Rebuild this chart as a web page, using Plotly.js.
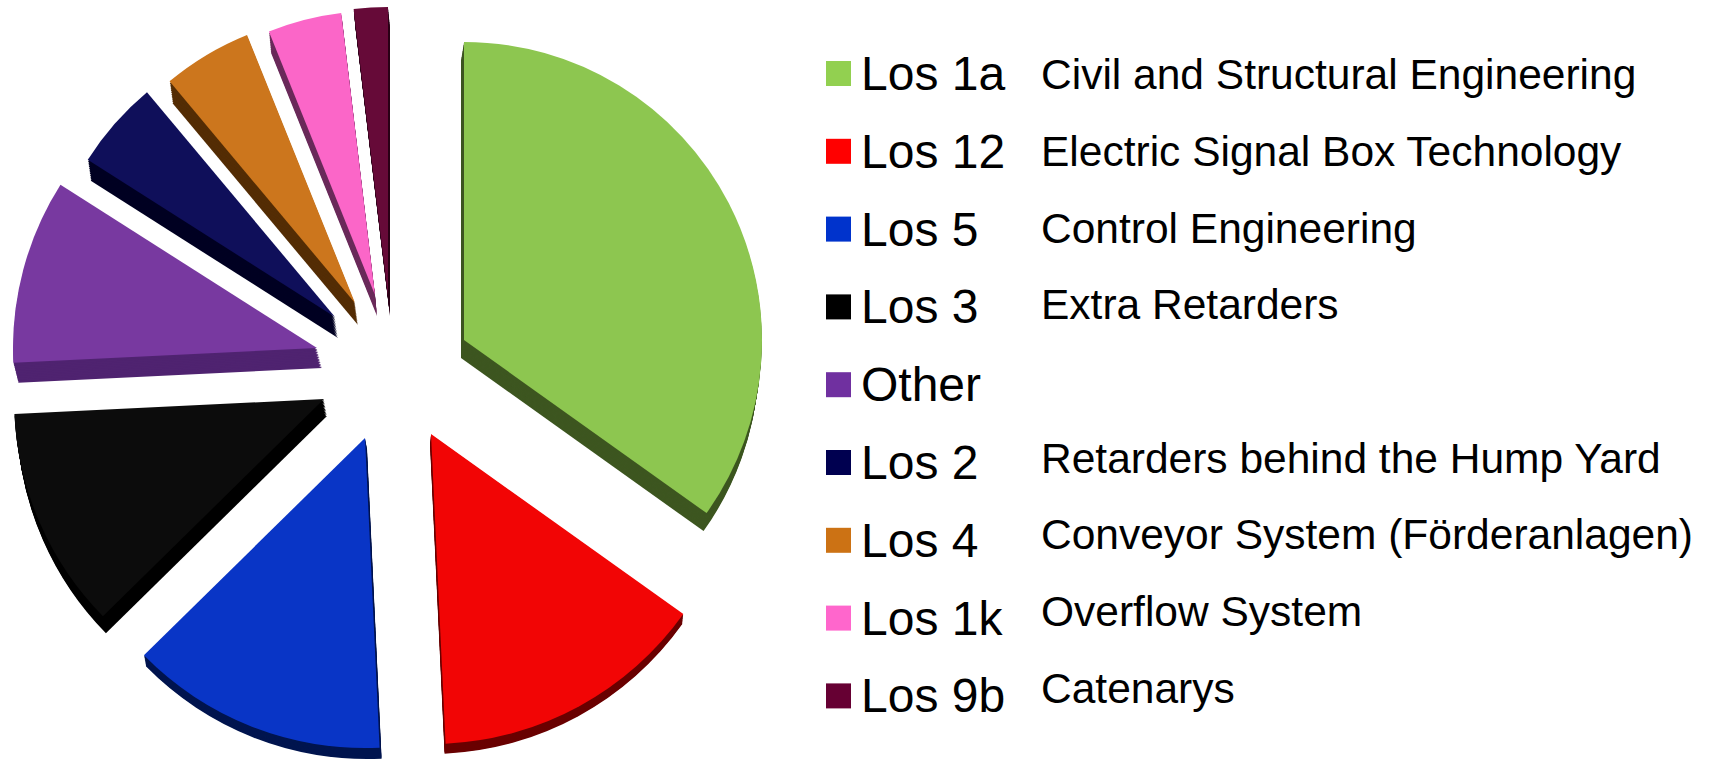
<!DOCTYPE html>
<html><head><meta charset="utf-8">
<script src="https://cdn.plot.ly/plotly-3.0.1.min.js"></script>
<style>html,body{margin:0;padding:0;background:#fff;overflow:hidden}#c{width:1718px;height:760px}</style>
</head><body><div id="c"></div>
<script>
// ---- data ----
const lots = ["Los 1a","Los 12","Los 5","Los 3","Other","Los 2","Los 4","Los 1k","Los 9b"];
const shares = [34.9,14.4,13.4,11.6,9.8,4.9,5.0,4.2,1.9];
const descriptions = ["Civil and Structural Engineering","Electric Signal Box Technology","Control Engineering","Extra Retarders","","Retarders behind the Hump Yard","Conveyor System (Förderanlagen)","Overflow System","Catenarys"];

// ---- styles ----
const faceColors = ["#8DC650","#F20505","#0935C6","#0C0C0C","#7839A0","#0F0F5A","#CC761D","#FB66C8","#660A38"];
const sideColors = ["#3D5620","#6A0000","#00154F","#000000","#4F2370","#000022","#542D05","#6A2A5A","#2A0018"];
const swatchColors = ["#92D050","#FF0000","#0033CC","#000000","#7030A0","#000050","#CC7214","#FF66CC","#660033"];

// ---- layout of the exploded slices: tip position, radius, extrusion ----
const W = 1718, H = 760;
const tipX = [464,431,365,324,317,335,355,375,388];
const tipY = [340,434,438,399,348,317,303,295,296];
const radius = [298,310,310,310,304,293,289,284,289];
const depthX = [-3,-1,2,3,5,3,3,2,2];
const depthY = [18,10,11,17,20,21,22,21,20];

function sliceTrace(i, dx, dy, color){
  const cx = tipX[i]+dx, cy = tipY[i]+dy, r = radius[i];
  return {
    type:'pie', labels:lots, values:shares, sort:false, direction:'clockwise', rotation:0,
    textinfo:'none', hoverinfo:'skip', showlegend:false,
    marker:{colors:lots.map((_,k)=>k===i?color:'rgba(0,0,0,0)'), line:{width:0}},
    domain:{x:[(cx-r)/W,(cx+r)/W], y:[1-(cy+r)/H,1-(cy-r)/H]}
  };
}
const traces = [];
const steps = 12;
lots.forEach((_,i)=>{
  for(let s=steps;s>=1;s--){
    traces.push(sliceTrace(i, depthX[i]*s/steps, depthY[i]*s/steps, sideColors[i]));
  }
});
lots.forEach((_,i)=>traces.push(sliceTrace(i,0,0,faceColors[i])));

// ---- key drawn on hidden axes whose unit on y is one table row ----
const rows = lots.map((_,i)=>i);
const keyY0 = 73.5, keyPitch = 77.8, labelY0 = 78, descY0 = 78.5, descPitch = 76.7;
const colSwatch = 838.5, colLabel = 861, colDesc = 1041;
traces.push({type:'scatter',mode:'markers',x:rows.map(()=>colSwatch),y:rows,
  marker:{symbol:'square',size:25,color:swatchColors,line:{width:0}},hoverinfo:'skip',showlegend:false});
traces.push({type:'scatter',mode:'text',x:rows.map(()=>colLabel),y:rows,yaxis:'y3',text:lots,textposition:'middle right',
  textfont:{family:'Liberation Sans, Arial, sans-serif',size:48,color:'#000'},hoverinfo:'skip',showlegend:false});
traces.push({type:'scatter',mode:'text',x:rows.map(()=>colDesc),y:rows,yaxis:'y2',text:descriptions,textposition:'middle right',
  textfont:{family:'Liberation Sans, Arial, sans-serif',size:42.5,color:'#000'},hoverinfo:'skip',showlegend:false});

const hidden = {visible:false,fixedrange:true,showgrid:false,zeroline:false};
Plotly.newPlot('c',traces,{
  width:W,height:H,margin:{l:0,r:0,t:0,b:0,pad:0},
  paper_bgcolor:'#fff',plot_bgcolor:'rgba(0,0,0,0)',showlegend:false,
  xaxis:{...hidden,range:[0,W],domain:[0,1]},
  yaxis:{...hidden,range:[(H-keyY0)/keyPitch,-keyY0/keyPitch],domain:[0,1]},
  yaxis2:{...hidden,overlaying:'y',range:[(H-descY0)/descPitch,-descY0/descPitch],domain:[0,1]},
  yaxis3:{...hidden,overlaying:'y',range:[(H-labelY0)/keyPitch,-labelY0/keyPitch],domain:[0,1]}
},{displayModeBar:false,staticPlot:true});
</script></body></html>
